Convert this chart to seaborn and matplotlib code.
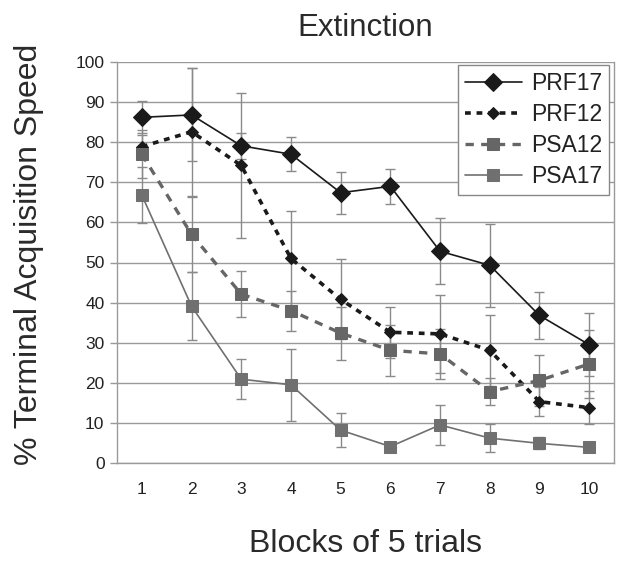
import numpy as np
import pandas as pd
import matplotlib
matplotlib.use("Agg")
import matplotlib.pyplot as plt
import seaborn as sns

blocos = [1, 2, 3, 4, 5, 6, 7, 8, 9, 10]

prf17 = [86.2, 86.8, 79.1, 77.0, 67.4, 69.0, 52.8, 49.3, 36.8, 29.5]
prf17_err = [4.0, 11.6, 3.2, 4.3, 5.2, 4.4, 8.2, 10.4, 5.8, 7.8]
prf12 = [78.9, 82.6, 74.2, 51.0, 40.8, 32.6, 32.2, 28.1, 15.3, 13.8]
prf12_err = [3.0, 16.0, 18.0, 11.8, 10.0, 6.3, 9.8, 8.9, 3.6, 4.1]
psa12 = [77.0, 57.0, 42.1, 38.0, 32.4, 28.1, 27.2, 17.8, 20.6, 24.7]
psa12_err = [6.0, 9.4, 5.7, 5.0, 6.6, 6.4, 6.3, 3.3, 6.4, 8.5]
psa17 = [66.8, 39.1, 20.9, 19.5, 8.2, 4.1, 9.5, 6.2, 4.9, 3.9]
psa17_err = [7.0, 8.5, 5.0, 9.0, 4.2, 1.0, 5.0, 3.5, 1.5, 1.0]

nomes = ["PRF17", "PRF12", "PSA12", "PSA17"]
yticks = [0, 10, 20, 30, 40, 50, 60, 70, 80, 90, 100]

sns.set_style("white")
plt.rcParams["font.family"] = ["Liberation Sans", "DejaVu Sans"]

fig = plt.figure(figsize=(6.18, 5.73), dpi=100)
ax = fig.add_axes([117 / 618, 1 - 463 / 573, 497 / 618, 401 / 573])

estilos = {
    "PRF17": dict(color="#1a1a1a", marker="D", markersize=9.5, linewidth=1.2, linestyle="-"),
    "PRF12": dict(color="#1a1a1a", marker="D", markersize=6.5, linewidth=2.6, linestyle=(0, (1.6, 1.6))),
    "PSA12": dict(color="#666666", marker="s", markersize=8.5, linewidth=2.4, linestyle=(0, (2.5, 2.2))),
    "PSA17": dict(color="#707070", marker="s", markersize=8.5, linewidth=1.2, linestyle="-"),
}
valores = {"PRF17": prf17, "PRF12": prf12, "PSA12": psa12, "PSA17": psa17}
erros = {"PRF17": prf17_err, "PRF12": prf12_err, "PSA12": psa12_err, "PSA17": psa17_err}

for nome in nomes:
    ax.errorbar(blocos, valores[nome], yerr=erros[nome], fmt="none",
                ecolor="#8a8a8a", elinewidth=1.0, capsize=3.5, capthick=1.0, zorder=2)

for nome in nomes:
    st = estilos[nome]
    sns.lineplot(x=blocos, y=valores[nome], ax=ax, label=nome,
                 color=st["color"], marker=st["marker"], markersize=st["markersize"],
                 markeredgecolor=st["color"], linewidth=st["linewidth"],
                 linestyle=st["linestyle"], zorder=3)

ax.set_xlim(0.5, 10.5)
ax.set_ylim(0, 100)
ax.set_yticks(yticks)
ax.set_xticks(blocos)
ax.set_xticks(np.arange(0.5, 11, 1), minor=True)
ax.tick_params(axis="x", which="major", length=0, pad=14, labelsize=12.5, labelcolor="#222222")
ax.tick_params(axis="x", which="minor", length=5, width=1, color="#999999", direction="out")
ax.tick_params(axis="y", length=5, width=1, color="#999999", direction="out", pad=4,
               labelsize=12.5, labelcolor="#222222", left=True)
ax.grid(axis="y", color="#9a9a9a", linewidth=1.0)
ax.set_axisbelow(True)
for lado in ["left", "bottom", "right"]:
    ax.spines[lado].set_color("#9a9a9a")
    ax.spines[lado].set_linewidth(1.0)
ax.spines["top"].set_visible(False)

ax.set_title("Extinction", fontsize=22.5, color="#2a2a2a", pad=19)
ax.set_xlabel("Blocks of 5 trials", fontsize=23, color="#2a2a2a", labelpad=23)
ax.set_ylabel("% Terminal Acquisition Speed", fontsize=23, color="#2a2a2a")
ax.yaxis.set_label_coords(-0.147, 0.521)

leg = ax.legend(loc="upper right", bbox_to_anchor=(0.99, 0.993), borderaxespad=0,
                fontsize=16.5, frameon=True, fancybox=False, framealpha=1,
                edgecolor="#888888", handlelength=2.5, labelspacing=0.35,
                handletextpad=0.4, borderpad=0.3)
leg.get_frame().set_linewidth(1.0)
for txt in leg.get_texts():
    txt.set_color("#222222")

plt.savefig("out.png", dpi=100)
